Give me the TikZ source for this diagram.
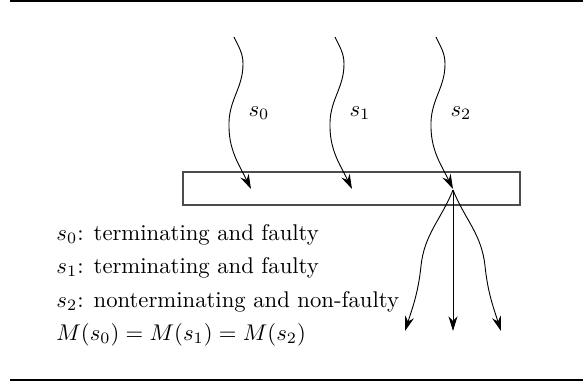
\documentclass[tikz,border=0pt]{standalone}
\usetikzlibrary{arrows.meta}
\begin{document}
\begin{tikzpicture}[x=0.4405pt, y=0.4405pt,
  flow/.style={-{Stealth[length=6.5pt,width=4pt]}},
  rulebar/.style={line width=0.9pt},
  every node/.style={inner sep=0pt}]
  \useasboundingbox (0,0) rectangle (587,-385);
  \draw[rulebar] (10,-1) -- (583,-1);
  \draw[rulebar] (10,-380) -- (583,-380);
  % the box all three runs hit
  \draw[black!70, line width=0.6pt] (183,-172) rectangle (520,-205);
  % incoming runs
  \foreach \i/\dx in {0/0,1/101,2/202} {
    \coordinate (in\i) at (234+\dx,-37);
    \coordinate (hit\i) at (251+\dx,-189);
    \node (lab\i) at (259+\dx,-113) {$s_{\i}$};
    \draw[flow] (in\i) to[out=-65,in=90] ++(9,-27)
      to[out=-90,in=88] ++(-14,-58) to[out=-92,in=116] (hit\i);
  }
  % s_2 fans out below the box
  \coordinate (apex) at (453,-190);
  \coordinate (outl) at (405,-331);
  \coordinate (outm) at (453,-331);
  \coordinate (outr) at (501,-331);
  \draw[flow] (apex) to[out=-112,in=84] ++(-32,-76) to[out=-96,in=72] (outl);
  \draw[flow] (apex) -- (outm);
  \draw[flow] (apex) to[out=-68,in=96] ++(32,-76) to[out=-84,in=108] (outr);
  % what the runs mean
  \node[anchor=base west] (d0) at (56,-240) {$s_0$: terminating and faulty};
  \node[anchor=base west] (d1) at (56,-273) {$s_1$: terminating and faulty};
  \node[anchor=base west] (d2) at (56,-307) {$s_2$: nonterminating and non-faulty};
  \node[anchor=base west] (d3) at (56,-340) {$M(s_0) = M(s_1) = M(s_2)$};
\end{tikzpicture}
\end{document}
